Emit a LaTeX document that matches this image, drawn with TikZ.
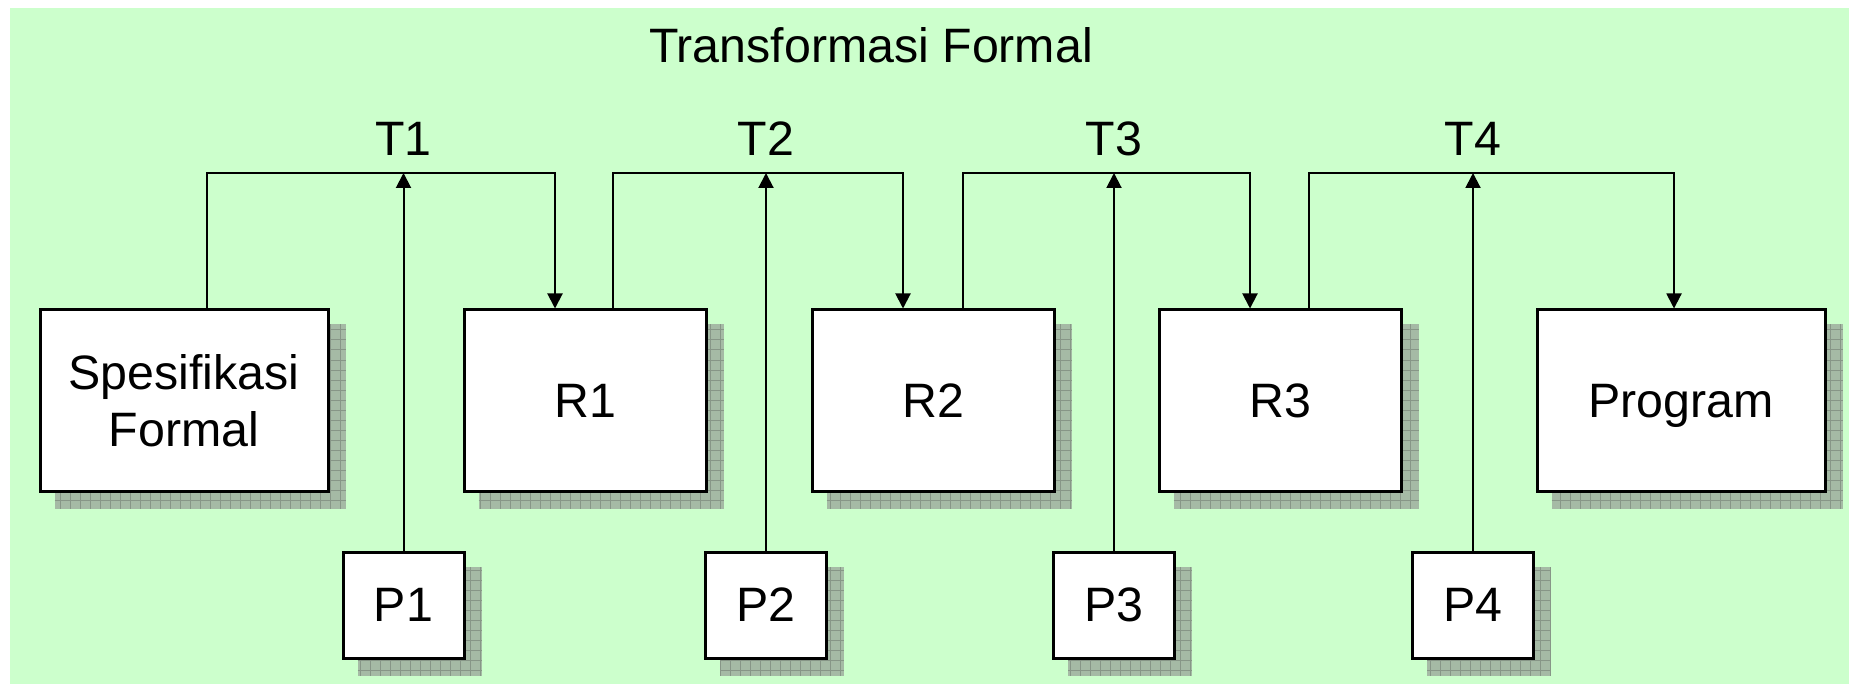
\documentclass[tikz,border=0pt]{standalone}
\usepackage{fontspec}
\setmainfont{Liberation Sans}
\usetikzlibrary{arrows.meta}
\pgfdeclarelayer{bgl}
\pgfdeclarelayer{shl}
\pgfsetlayers{bgl,shl,main}
\definecolor{bggreen}{HTML}{CCFFCC}
\definecolor{shadowc}{RGB}{165,186,165}
\definecolor{gridc}{RGB}{135,150,135}
\begin{document}
\begin{tikzpicture}[x=1pt,y=-1pt, font=\fontsize{48.3}{57}\selectfont,
  box/.style={draw, line width=3pt, fill=white, inner sep=0pt, text depth=0pt, align=center},
  bigbox/.style={box, minimum width=288pt, minimum height=181pt},
  midbox/.style={box, minimum width=242pt, minimum height=181pt},
  pbox/.style={box, minimum width=121pt, minimum height=106pt},
  link/.style={line width=2pt, -{Triangle[length=15pt,width=15pt]}},
  lbl/.style={anchor=base, inner sep=0pt}]
\useasboundingbox (0,0) rectangle (1849,684);
\begin{pgfonlayer}{bgl}
  \fill[bggreen] (10,8) rectangle (1849,684);
\end{pgfonlayer}

\node[lbl] (title) at (871,63) {Transformasi Formal};

\node[bigbox] (s)  at (184,400.5)  {Spesifikasi\\Formal};
\node[midbox] (r1) at (585,400.5)  {R1};
\node[midbox] (r2) at (933,400.5)  {R2};
\node[midbox] (r3) at (1280,400.5) {R3};
\node[bigbox] (pg) at (1681,400.5) {Program};

\node[pbox] (p1) at (403.5,605)  {P1};
\node[pbox] (p2) at (766,605)    {P2};
\node[pbox] (p3) at (1114,605)   {P3};
\node[pbox] (p4) at (1473,605)   {P4};

\coordinate (top) at (0,173);

\node[lbl] (t1) at (403.5,156) {T1};
\node[lbl] (t2) at (766,156)   {T2};
\node[lbl] (t3) at (1114,156)  {T3};
\node[lbl] (t4) at (1473,156)  {T4};

\begin{pgfonlayer}{shl}
\foreach \n in {s,r1,r2,r3,pg,p1,p2,p3,p4}{
  \fill[shadowc] ([shift={(16,16)}]\n.north west) rectangle ([shift={(16,16)}]\n.south east);
  \draw[gridc, line width=1pt, step=10pt] ([shift={(16,16)}]\n.north west) grid ([shift={(16,16)}]\n.south east);
}
\end{pgfonlayer}

\draw[link] ([xshift=23pt]s.north)  |- ([xshift=-30pt]r1.north |- top) -- ([xshift=-30pt]r1.north);
\draw[link] ([xshift=28pt]r1.north) |- ([xshift=-30pt]r2.north |- top) -- ([xshift=-30pt]r2.north);
\draw[link] ([xshift=30pt]r2.north) |- ([xshift=-30pt]r3.north |- top) -- ([xshift=-30pt]r3.north);
\draw[link] ([xshift=29pt]r3.north) |- ([xshift=-7pt]pg.north |- top) -- ([xshift=-7pt]pg.north);

\draw[link] (p1.north) -- (p1.north |- top);
\draw[link] (p2.north) -- (p2.north |- top);
\draw[link] (p3.north) -- (p3.north |- top);
\draw[link] (p4.north) -- (p4.north |- top);
\end{tikzpicture}
\end{document}
